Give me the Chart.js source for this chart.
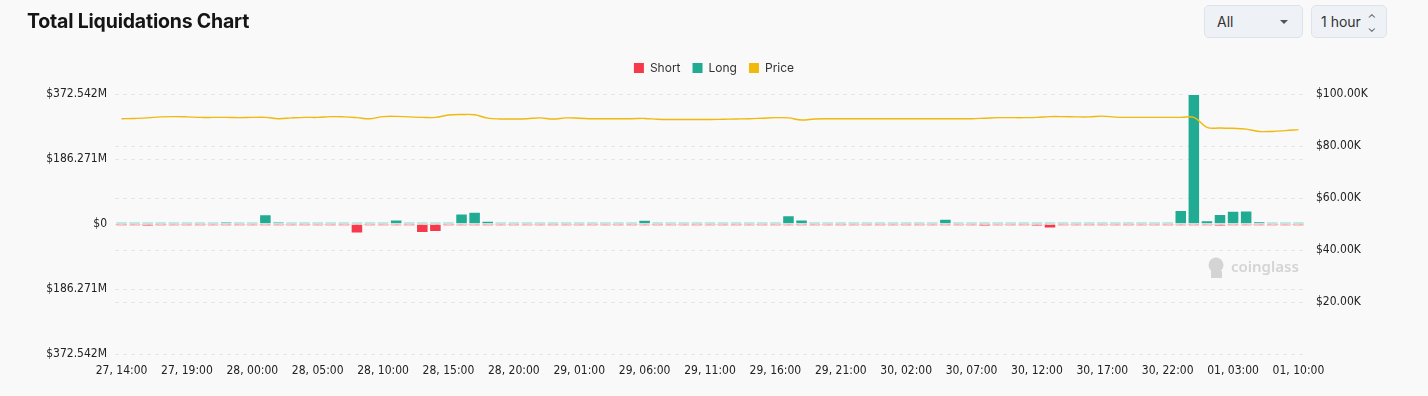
<!DOCTYPE html>
<html>
<head>
<meta charset="utf-8">
<script src="https://cdn.jsdelivr.net/npm/chart.js@4.4.1/dist/chart.umd.min.js"></script>
<style>
  html, body { margin: 0; padding: 0; background: #f9f9f9; }
  #wrap { position: relative; width: 1428px; height: 396px; overflow: hidden; }
  #title { position: absolute; left: 27px; top: 9px; font: 700 19.5px Inter, "Noto Sans", sans-serif; color: #151515; letter-spacing: -0.2px; }
  .btn { position: absolute; top: 5px; height: 33px; box-sizing: border-box; border: 1px solid #dde3ea; border-radius: 5px;
         background: #eef2f6; font: 14px Inter, "Noto Sans", sans-serif; color: #333; line-height: 31px; }
  #all { left: 1204px; width: 99px; padding-left: 12px; }
  #all .caret { position: absolute; right: 14px; top: 14px; width: 0; height: 0; border-left: 4px solid transparent; border-right: 4px solid transparent; border-top: 4px solid #555; }
  #hour { left: 1311px; width: 76px; padding-left: 9px; }
  #hour .arr { position: absolute; right: 10px; top: 0; font-size: 11px; color: #555; line-height: 10px; padding-top: 7px; text-align: center; }
  canvas { position: absolute; left: 0; top: 0; }
</style>
</head>
<body>
<div id="wrap">
  <canvas id="liqChart" width="1428" height="396"></canvas>
  <div id="title">Total Liquidations Chart</div>
  <div class="btn" id="all">All<span class="caret"></span></div>
  <div class="btn" id="hour">1 hour<span class="arr">&#8963;<br>&#8964;</span></div>
</div>
<script>
// hourly categories
const labels = [
  '27, 14:00','27, 15:00','27, 16:00','27, 17:00','27, 18:00','27, 19:00','27, 20:00','27, 21:00','27, 22:00','27, 23:00',
  '28, 00:00','28, 01:00','28, 02:00','28, 03:00','28, 04:00','28, 05:00','28, 06:00','28, 07:00','28, 08:00','28, 09:00',
  '28, 10:00','28, 11:00','28, 12:00','28, 13:00','28, 14:00','28, 15:00','28, 16:00','28, 17:00','28, 18:00','28, 19:00',
  '28, 20:00','28, 21:00','28, 22:00','28, 23:00',
  '29, 00:00','29, 01:00','29, 02:00','29, 03:00','29, 04:00','29, 05:00','29, 06:00','29, 07:00','29, 08:00','29, 09:00',
  '29, 10:00','29, 11:00','29, 12:00','29, 13:00','29, 14:00','29, 15:00','29, 16:00','29, 17:00','29, 18:00','29, 19:00',
  '29, 20:00','29, 21:00','29, 22:00','29, 23:00',
  '30, 00:00','30, 01:00','30, 02:00','30, 03:00','30, 04:00','30, 05:00','30, 06:00','30, 07:00','30, 08:00','30, 09:00',
  '30, 10:00','30, 11:00','30, 12:00','30, 13:00','30, 14:00','30, 15:00','30, 16:00','30, 17:00','30, 18:00','30, 19:00',
  '30, 20:00','30, 21:00','30, 22:00','30, 23:00',
  '01, 00:00','01, 01:00','01, 02:00','01, 03:00','01, 04:00','01, 05:00','01, 08:00','01, 09:00','01, 10:00'
];

// long liquidations, $M
const longVals = [
  2, 1, 1.5, 1, 1, 1.5, 1, 1.5, 7, 2,
  1.5, 28, 7, 1, 1, 1, 3, 6, 0.5, 1,
  1, 13, 1.5, 0.5, 6, 3, 30, 35, 9, 1,
  1.5, 1.5, 2, 1, 3, 1, 1.5, 1.5, 1, 1.5,
  12, 1, 1.5, 1.5, 3, 2, 1.5, 1.5, 2, 2,
  1.5, 25, 13, 1, 2, 1, 1, 1, 1, 1,
  1.5, 6, 1.5, 15, 2, 1, 0.5, 1, 1.5, 1.5,
  1.5, 0.5, 3, 2, 1, 1.5, 1.5, 1, 2, 4,
  3, 40, 372.542, 11, 29, 38, 39, 8, 1, 3,
  0.5
];

// short liquidations, $M (drawn below zero)
const shortVals = [
  -1, -2, -7, -1.5, -5, -1, -1.5, -1, -1, -0.5,
  -0.5, -0.5, -1, -1.5, -3, -2.5, -1, -1, -27, -6,
  -3, -4, -1, -26, -23, -5, -0.5, -3, -1, -6,
  -1, -0.5, -0.5, -1.5, -1, -1.5, -1, -1, -1.5, -1,
  -1, -3, -1, -1, -1, -2.5, -1, -1, -0.5, -2,
  -0.5, -2, -2, -1.5, -0.5, -1, -1, -1, -2, -1.5,
  -1, -0.5, -1, -0.5, -2, -1.5, -7, -5, -1, -1,
  -7, -13, -0.5, -0.5, -2, -1, -1, -2, -2, -0.5,
  -0.5, -0.5, -5, -5, -7, -1, -2, -0.5, -2, -2,
  -1.5
];

// BTC price, $
const priceVals = [
  90500, 90600, 90800, 91200, 91300, 91200, 91000, 91000, 91000, 90900,
  91000, 91000, 90500, 90800, 91000, 91000, 91300, 91200, 90900, 90500,
  91300, 91400, 91200, 91000, 91000, 91900, 92100, 92000, 90700, 90400,
  90400, 90500, 90800, 90400, 90800, 90700, 90500, 90500, 90500, 90500,
  90600, 90300, 90200, 90200, 90200, 90200, 90300, 90400, 90500, 90700,
  90900, 90800, 90000, 90400, 90500, 90500, 90500, 90500, 90500, 90500,
  90500, 90500, 90500, 90500, 90500, 90500, 90700, 90900, 90900, 90900,
  91000, 91300, 91300, 91200, 91200, 91500, 91100, 91000, 91000, 91000,
  91000, 91000, 91000, 87200, 86900, 86800, 86500, 85600, 85600, 85900,
  86300
];

const leftTicks = [-372.542, -186.271, 0, 186.271, 372.542];
const rightTicks = [0, 20000, 40000, 60000, 80000, 100000];

const RED = '#f6394b';
const GREEN = '#21ab93';
const YELLOW = '#f0b90b';
const GRID = '#e6e6e6';
const TICK_FONT = { family: '"DejaVu Sans Condensed", "Liberation Sans Narrow", sans-serif', size: 12 };

const fixedLayout = {
  id: 'fixedLayout',
  beforeInit(chart) {
    const fit = chart.legend.fit;
    chart.legend.fit = function () { fit.call(this); this.height = 44; };
  }
};

const watermark = {
  id: 'watermark',
  beforeDatasetsDraw(chart) {
    const { ctx, chartArea } = chart;
    const x = chartArea.right - 98, y = chartArea.top + 173;
    ctx.save();
    ctx.fillStyle = '#d4d4d4';
    ctx.beginPath();
    ctx.arc(x + 9, y - 2, 7.5, 0, Math.PI * 2);
    ctx.fill();
    ctx.fillRect(x + 4, y + 4, 11, 7);
    ctx.font = '600 15px "Noto Sans", sans-serif';
    ctx.textBaseline = 'middle';
    ctx.fillText('coinglass', x + 24, y + 1);
    ctx.restore();
  }
};

new Chart(document.getElementById('liqChart'), {
  type: 'bar',
  data: {
    labels: labels,
    datasets: [
      { label: 'Short', data: shortVals, backgroundColor: RED, borderColor: 'rgba(255,255,255,0.55)',
        borderWidth: 1, minBarLength: 2, stack: 'liq', yAxisID: 'y', order: 2, barPercentage: 0.96, categoryPercentage: 1 },
      { label: 'Long', data: longVals, backgroundColor: GREEN, borderColor: 'rgba(255,255,255,0.55)',
        borderWidth: 1, minBarLength: 2, stack: 'liq', yAxisID: 'y', order: 2, barPercentage: 0.96, categoryPercentage: 1 },
      { type: 'line', label: 'Price', data: priceVals, borderColor: YELLOW, backgroundColor: YELLOW,
        borderWidth: 1.4, pointRadius: 0, tension: 0.4, yAxisID: 'y1', order: 0 }
    ]
  },
  options: {
    responsive: false,
    animation: false,
    layout: { padding: { top: 50, left: 0, right: 0, bottom: 0 } },
    plugins: {
      tooltip: { enabled: false },
      legend: {
        position: 'top',
        labels: {
          boxWidth: 10, boxHeight: 10, padding: 12, color: '#333',
          font: { family: 'Inter, "Noto Sans", sans-serif', size: 12 },
          generateLabels(chart) {
            return chart.data.datasets.map((d, i) => ({
              text: d.label, fillStyle: d.backgroundColor, strokeStyle: d.backgroundColor,
              lineWidth: 0, hidden: false, datasetIndex: i, fontColor: '#333'
            }));
          }
        }
      }
    },
    scales: {
      x: {
        stacked: true,
        grid: { display: false },
        border: { display: false },
        afterFit(s) { s.height = 42; },
        ticks: {
          autoSkip: false, maxRotation: 0, color: '#222', font: TICK_FONT, padding: 2,
          callback(v, i) { return (i % 5 === 0 || i === labels.length - 1) ? labels[i] : ''; }
        }
      },
      y: {
        stacked: true,
        position: 'left',
        min: leftTicks[0], max: leftTicks[leftTicks.length - 1],
        afterBuildTicks(s) { s.ticks = leftTicks.map(v => ({ value: v })); },
        afterFit(s) { s.width = 115; },
        grid: { color: GRID, tickLength: 0 },
        border: { display: false, dash: [4, 4] },
        ticks: {
          color: '#222', font: TICK_FONT, padding: 8,
          callback(v) { return v === 0 ? '$0' : '$' + Math.abs(v).toFixed(3) + 'M'; }
        }
      },
      y1: {
        position: 'right',
        min: 0, max: 100000,
        afterBuildTicks(s) { s.ticks = rightTicks.map(v => ({ value: v })); },
        afterFit(s) { s.width = 123; },
        grid: { color: GRID, tickLength: 0 },
        border: { display: false, dash: [4, 4] },
        ticks: {
          color: '#222', font: TICK_FONT, padding: 11,
          callback(v) { return v === 0 ? '' : '$' + (v / 1000).toFixed(2) + 'K'; }
        }
      }
    }
  },
  plugins: [fixedLayout, watermark]
});
</script>
</body>
</html>
